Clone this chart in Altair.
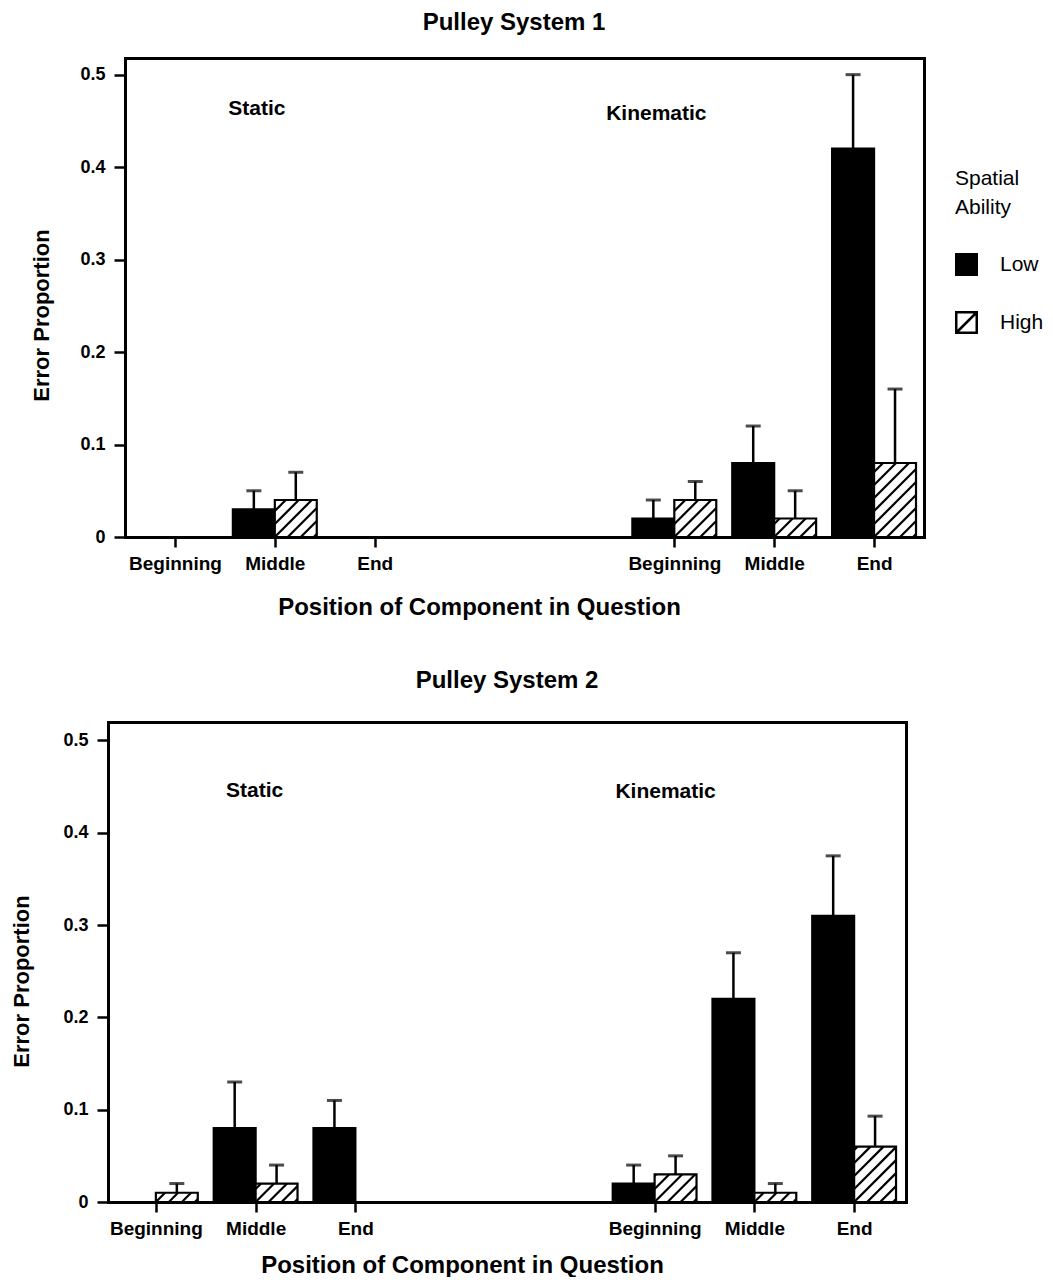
import altair as alt
import pandas as pd

# ---------------- data ----------------
positions = ["Beginning", "Middle", "End", "Beginning", "Middle", "End"]
conditions = ["Static", "Static", "Static", "Kinematic", "Kinematic", "Kinematic"]
abilities = ["Low", "High"]

s1_low = [0.0, 0.03, 0.0, 0.02, 0.08, 0.42]
s1_low_err = [0.0, 0.02, 0.0, 0.02, 0.04, 0.08]
s1_high = [0.0, 0.04, 0.0, 0.04, 0.02, 0.08]
s1_high_err = [0.0, 0.03, 0.0, 0.02, 0.03, 0.08]

s2_low = [0.0, 0.08, 0.08, 0.02, 0.22, 0.31]
s2_low_err = [0.0, 0.05, 0.03, 0.02, 0.05, 0.065]
s2_high = [0.01, 0.02, 0.0, 0.03, 0.01, 0.06]
s2_high_err = [0.01, 0.02, 0.0, 0.02, 0.01, 0.033]

x_tick_labels = ["Beginning", "Middle", "End", "", "", "Beginning", "Middle", "End"]
y_ticks = [0, 0.1, 0.2, 0.3, 0.4, 0.5]

FONT = "Liberation Sans"
BW = 0.42     # bar width in slot units
GAP = 13      # hatch spacing (px)


def make_frame(low, low_err, high, high_err):
    rows = []
    for i in range(len(positions)):
        rows.append(dict(position=positions[i], condition=conditions[i],
                         ability="Low", value=low[i], err=low_err[i]))
        rows.append(dict(position=positions[i], condition=conditions[i],
                         ability="High", value=high[i], err=high_err[i]))
    return pd.DataFrame(rows)


def frame_axis(orient):
    return alt.Axis(orient=orient, domain=True, domainColor="black", domainWidth=3,
                    domainCap="square", ticks=False, labels=False, grid=False, title=None)


def panel(df, title, width, height, xdom, xrange, ydom, yoffset,
          ytx, yty, xtx, xty, ann, spacer_x, spacer_y, with_legend,
          title_dx, title_offset):
    sx = (xrange[1] - xrange[0]) / (xdom[1] - xdom[0])
    sy = height / (ydom[1] - ydom[0])
    xs = alt.Scale(domain=xdom, range=xrange, nice=False, zero=False)
    ys = alt.Scale(domain=ydom, nice=False, zero=False)

    xaxis = alt.Axis(
        values=[0, 1, 2, 5, 6, 7],
        labelExpr="['" + "','".join(x_tick_labels) + "'][datum.value]",
        title="Position of Component in Question",
        titleFont=FONT, titleFontSize=24, titleFontWeight="bold", titleColor="black",
        titleX=xtx, titleY=xty, titleBaseline="middle", titleAlign="center",
        labelFont=FONT, labelFontSize=19, labelFontWeight="bold", labelColor="black",
        labelPadding=7, labelOverlap=False, labelFlush=False,
        tickSize=10, tickWidth=2.5, tickColor="black",
        domain=True, domainColor="black", domainWidth=3, domainCap="square", grid=False,
    )
    yaxis = alt.Axis(
        values=y_ticks,
        labelExpr="datum.value == 0 ? '0' : format(datum.value, '.1f')",
        title="Error Proportion",
        titleFont=FONT, titleFontSize=22, titleFontWeight="bold", titleColor="black",
        titleX=ytx, titleY=yty, titleBaseline="middle", titleAlign="center", titleAngle=270,
        labelFont=FONT, labelFontSize=18, labelFontWeight="bold", labelColor="black",
        labelPadding=9, labelOverlap=False, offset=yoffset,
        tickSize=11, tickWidth=2.5, tickColor="black",
        domain=True, domainColor="black", domainWidth=3, domainCap="square", grid=False,
    )

    base = alt.Chart(df).transform_calculate(
        slot="indexof(['Beginning','Middle','End'], datum.position) + (datum.condition === 'Kinematic' ? 5 : 0)"
    ).transform_calculate(
        xl=f"datum.slot - (datum.ability === 'Low' ? {BW} : 0)"
    ).transform_calculate(
        xr=f"datum.xl + {BW}",
        xc=f"datum.xl + {BW / 2}",
        upper="datum.value + datum.err",
        zero="0",
    )

    bars = base.transform_filter("datum.value > 0").mark_rect(
        stroke="black", strokeWidth=2.2
    ).encode(
        x=alt.X("xl:Q", scale=xs, axis=xaxis), x2="xr:Q",
        y=alt.Y("value:Q", scale=ys, axis=yaxis), y2="zero:Q",
        fill=alt.condition("datum.ability === 'Low'", alt.value("black"), alt.value("white")),
    )

    hatch = base.transform_filter(
        "datum.ability === 'High' && datum.value > 0"
    ).transform_calculate(
        Wp=f"{BW} * {sx}", Hp=f"datum.value * {sy}"
    ).transform_calculate(
        ks=f"sequence(-ceil(datum.Hp / {GAP}), floor(datum.Wp / {GAP}) + 1)"
    ).transform_flatten(["ks"]).transform_calculate(
        kg=f"datum.ks * {GAP}"
    ).transform_calculate(
        sxp="datum.kg >= 0 ? datum.kg : 0",
        syp="datum.kg >= 0 ? 0 : -datum.kg",
        eyw="datum.Wp - datum.kg",
    ).transform_calculate(
        exq="datum.eyw <= datum.Hp ? datum.Wp : datum.Hp + datum.kg",
        eyq="datum.eyw <= datum.Hp ? datum.eyw : datum.Hp",
    ).transform_filter("datum.exq - datum.sxp > 1.5").transform_calculate(
        hx1=f"datum.xl + datum.sxp / {sx}",
        hx2=f"datum.xl + datum.exq / {sx}",
        hy1=f"datum.syp / {sy}",
        hy2=f"datum.eyq / {sy}",
    ).mark_rule(color="black", strokeWidth=2.2).encode(
        x=alt.X("hx1:Q", scale=xs, axis=None), x2="hx2:Q",
        y=alt.Y("hy1:Q", scale=ys, axis=None), y2="hy2:Q",
    )

    err_line = base.transform_filter("datum.err > 0").mark_rule(
        color="black", strokeWidth=2.5
    ).encode(
        x=alt.X("xc:Q", scale=xs, axis=None),
        y=alt.Y("value:Q", scale=ys, axis=None), y2="upper:Q",
    )
    err_cap = base.transform_filter("datum.err > 0").mark_tick(
        color="black", orient="horizontal", size=15, thickness=3
    ).encode(
        x=alt.X("xc:Q", scale=xs, axis=None),
        y=alt.Y("upper:Q", scale=ys, axis=None),
    )

    ann_df = pd.DataFrame(ann)
    notes = alt.Chart(ann_df).mark_text(
        font=FONT, fontSize=21, fontWeight="bold", color="black",
        align="center", baseline="middle"
    ).encode(
        x=alt.X("ax:Q", scale=xs, axis=frame_axis("top")),
        y=alt.Y("ay:Q", scale=ys, axis=frame_axis("right")),
        text="label:N",
    )

    spacer = alt.Chart(pd.DataFrame({"s": [0]})).mark_point(
        opacity=0, size=1
    ).encode(x=alt.value(spacer_x), y=alt.value(spacer_y))

    layers = [bars, hatch, err_line, err_cap, notes, spacer]

    if with_legend:
        leg_df = pd.DataFrame({"ability": abilities})
        leg_kw = dict(
            orient="none", legendX=847, legendY=110,
            title=["Spatial", "Ability"], titleFont=FONT, titleFontSize=21,
            titleFontWeight="normal", titleColor="black", titleLineHeight=29,
            titlePadding=35, labelFont=FONT, labelFontSize=21, labelColor="black",
            labelOffset=22, rowPadding=27, padding=0, symbolSize=420,
            symbolStrokeWidth=2.5, symbolStrokeColor="black", symbolOpacity=1,
        )
        legend_pts = alt.Chart(leg_df).mark_point(
            filled=False, strokeWidth=2.5
        ).encode(
            x=alt.value(0), y=alt.value(0), size=alt.value(0),
            fill=alt.Fill("ability:N",
                          scale=alt.Scale(domain=abilities, range=["black", "white"]),
                          legend=alt.Legend(**leg_kw)),
            stroke=alt.Stroke("ability:N",
                              scale=alt.Scale(domain=abilities, range=["black", "black"]),
                              legend=alt.Legend(**leg_kw)),
            shape=alt.Shape("ability:N",
                            scale=alt.Scale(domain=abilities,
                                            range=["square", "M-1,-1H1V1H-1Z M-1,1L1,-1"]),
                            legend=alt.Legend(**leg_kw)),
        )
        layers.append(legend_pts)

    return alt.layer(*layers).resolve_axis(
        x="independent", y="independent"
    ).properties(
        width=width, height=height,
        title=alt.TitleParams(title, font=FONT, fontSize=24, fontWeight="bold",
                              color="black", anchor="middle", baseline="bottom",
                              offset=title_offset, dx=title_dx),
    )


# top panel: plot origin shares the bottom panel's origin; its frame starts 17px further right
top = panel(
    make_frame(s1_low, s1_low_err, s1_high, s1_high_err), "Pulley System 1",
    width=816, height=479, xdom=[-0.5, 7.5], xrange=[17, 816], ydom=[0, 0.518],
    yoffset=-17, ytx=-84, yty=257, xtx=371, xty=70,
    ann={"label": ["Static", "Kinematic"], "ax": [0.82, 4.82], "ay": [0.463, 0.457]},
    spacer_x=-99, spacer_y=479 + 85, with_legend=True, title_dx=-2, title_offset=-6,
)
bottom = panel(
    make_frame(s2_low, s2_low_err, s2_high, s2_high_err), "Pulley System 2",
    width=798, height=480, xdom=[-0.48, 7.52], xrange=[0, 798], ydom=[0, 0.52],
    yoffset=0, ytx=-87, yty=259, xtx=354, xty=63,
    ann={"label": ["Static", "Kinematic"], "ax": [0.99, 5.11], "ay": [0.445, 0.444]},
    spacer_x=-99, spacer_y=0, with_legend=False, title_dx=0, title_offset=5,
)

chart = alt.vconcat(top, bottom, spacing=45).properties(
    padding={"left": 0, "top": 3, "right": 0, "bottom": 0}
).configure(font=FONT).configure_view(
    stroke="transparent", strokeWidth=0
)

chart.save("out.html", embed_options={"renderer": "svg", "actions": False})
